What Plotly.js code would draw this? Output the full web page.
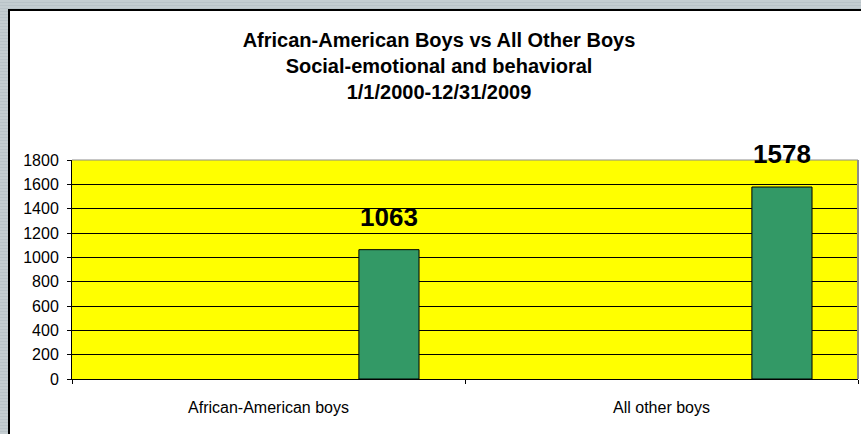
<!DOCTYPE html>
<html>
<head>
<meta charset="utf-8">
<script src="https://cdn.plot.ly/plotly-3.0.1.min.js"></script>
<style>
  html, body { margin:0; padding:0; width:861px; height:434px; overflow:hidden;
    background: repeating-linear-gradient(0deg, #c4cdd1 0px, #c4cdd1 2px, #b9c3c8 2px, #b9c3c8 3px); }
  #frame { position:absolute; left:8px; top:9px; width:861px; height:434px; background:#ffffff;
    border-left:2px solid #000; border-top:2px solid #000; }
  #chart { position:absolute; left:0; top:0; width:861px; height:434px; }
</style>
</head>
<body>
<div id="frame"></div>
<div id="chart"></div>
<script>
const categories = ["African-American boys", "All other boys"];
const values = [1063, 1578];
const yTicks = [0, 200, 400, 600, 800, 1000, 1200, 1400, 1600, 1800];
const titleLines = ["African-American Boys vs All Other Boys", "Social-emotional and behavioral", "1/1/2000-12/31/2009"];

const barOffset = 0.23;
const barWidth = 0.153;

const trace = {
  type: "bar",
  x: categories,
  y: values,
  offset: barOffset,
  width: barWidth,
  marker: { color: "#339966", line: { color: "#000000", width: 1 } },
  hoverinfo: "none"
};

const annotations = values.map((v, i) => ({
  x: i + barOffset + barWidth / 2,
  y: v,
  xref: "x", yref: "y",
  text: "<b>" + v + "</b>",
  showarrow: false,
  yanchor: "bottom",
  yshift: 16,
  font: { family: "Liberation Sans, Arial", size: 26, color: "#000000" }
}));

const layout = {
  width: 861, height: 434,
  paper_bgcolor: "rgba(0,0,0,0)",
  plot_bgcolor: "#ffff00",
  margin: { l: 72, r: 3, t: 160, b: 55 },
  showlegend: false,
  font: { family: "Liberation Sans, Arial, sans-serif", size: 16, color: "#000000" },
  title: {
    text: "<b>" + titleLines.join("<br>") + "</b>",
    font: { family: "Liberation Sans, Arial, sans-serif", size: 20, color: "#000000" },
    xref: "container", yref: "container",
    x: 439 / 861, xanchor: "center",
    y: 1 - 47 / 434, yanchor: "middle"
  },
  xaxis: {
    type: "category",
    range: [-0.5, 1.5],
    showgrid: false,
    showline: true, linecolor: "#000000", linewidth: 1,
    ticks: "outside", tickson: "boundaries", ticklen: 4, tickcolor: "#000000",
    ticklabelstandoff: 14,
    tickfont: { size: 16 },
    fixedrange: true
  },
  yaxis: {
    range: [0, 1800],
    tickvals: yTicks,
    showgrid: true, gridcolor: "#000000", gridwidth: 1,
    showline: true, linecolor: "#000000", linewidth: 1,
    ticks: "outside", ticklen: 4, tickcolor: "#000000",
    ticklabelstandoff: 5,
    tickfont: { size: 16 },
    zeroline: false,
    fixedrange: true
  },
  shapes: [
    { type: "line", xref: "paper", yref: "paper", x0: 0, x1: 1, y0: 1, y1: 1, line: { color: "#8c8c8c", width: 1 } },
    { type: "line", xref: "paper", yref: "paper", x0: 1, x1: 1, y0: 0, y1: 1, line: { color: "#8c8c8c", width: 2 } }
  ],
  annotations: annotations
};

Plotly.newPlot("chart", [trace], layout, { displayModeBar: false, staticPlot: true });
</script>
</body>
</html>
